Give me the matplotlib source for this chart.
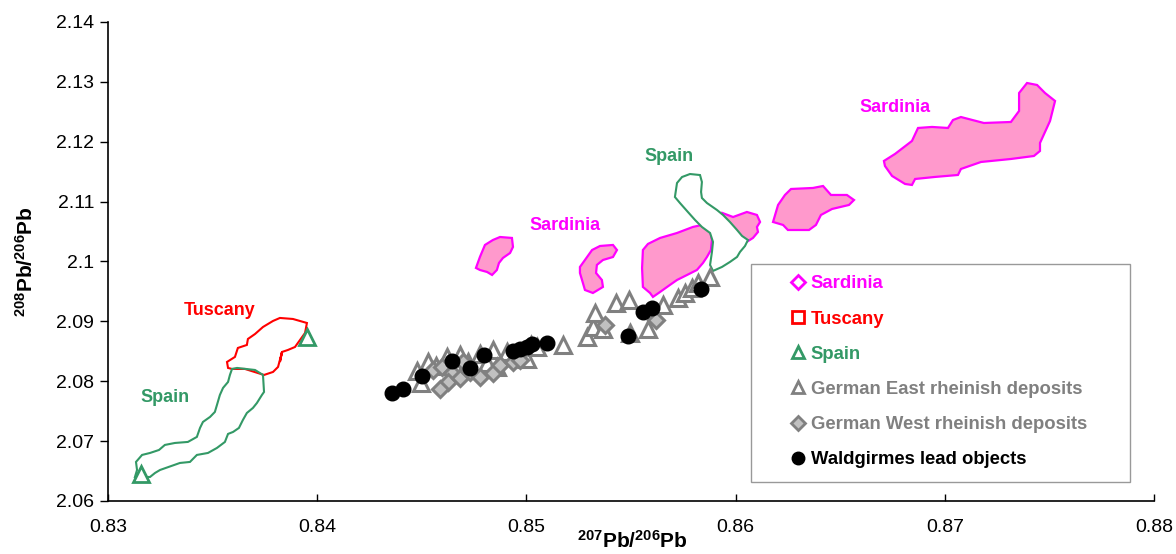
import matplotlib
matplotlib.use('Agg')
import matplotlib.pyplot as plt
from matplotlib.lines import Line2D
from matplotlib.patches import Rectangle

plt.rcParams['font.family'] = ['Liberation Sans', 'DejaVu Sans']
plt.rcParams['mathtext.fontset'] = 'custom'
plt.rcParams['mathtext.rm'] = 'Liberation Sans'
plt.rcParams['mathtext.bf'] = 'Liberation Sans:bold'

# ---- field outlines (207Pb/206Pb, 208Pb/206Pb) ----
tuscany_x = [0.83574, 0.83569, 0.83607, 0.83621, 0.83664, 0.83669, 0.83703, 0.83741, 0.83789,
             0.83822, 0.83884, 0.83951, 0.83942, 0.83918, 0.83894, 0.83860, 0.83832, 0.83822,
             0.83832, 0.83813, 0.83789, 0.83746, 0.83655, 0.83593]
tuscany_y = [2.08222, 2.08322, 2.08406, 2.08556, 2.08606, 2.08706, 2.08789, 2.08906, 2.09007,
             2.09057, 2.09040, 2.08973, 2.08806, 2.08689, 2.08572, 2.08522, 2.08489, 2.08322,
             2.08489, 2.08239, 2.08155, 2.08105, 2.08205, 2.08205]

spain1_x = [0.83593, 0.83617, 0.83703, 0.83741, 0.83746, 0.83736, 0.83712, 0.83693, 0.83664,
            0.83645, 0.83626, 0.83598, 0.83574, 0.83559, 0.83521, 0.83478, 0.83425, 0.83392,
            0.83344, 0.83249, 0.83225, 0.83201, 0.83129, 0.83139, 0.83134, 0.83163, 0.83201,
            0.83244, 0.83272, 0.83320, 0.83382, 0.83425, 0.83440, 0.83454, 0.83488, 0.83511,
            0.83521, 0.83535, 0.83550, 0.83574, 0.83583]
spain1_y = [2.08205, 2.08222, 2.08188, 2.08105, 2.07821, 2.07771, 2.07637, 2.07554, 2.07470,
            2.07353, 2.07220, 2.07153, 2.07120, 2.06986, 2.06886, 2.06802, 2.06769, 2.06652,
            2.06635, 2.06518, 2.06468, 2.06401, 2.06401, 2.06518, 2.06652, 2.06769, 2.06802,
            2.06852, 2.06936, 2.06969, 2.06986, 2.07070, 2.07220, 2.07320, 2.07404, 2.07487,
            2.07604, 2.07771, 2.07888, 2.07988, 2.08105]

spain2_x = [0.85710, 0.85720, 0.85744, 0.85782, 0.85830, 0.85839, 0.85835, 0.85839, 0.85863,
            0.85911, 0.85940, 0.85973, 0.86007, 0.86031, 0.86059, 0.86045, 0.86021, 0.86007,
            0.85973, 0.85935, 0.85892, 0.85878, 0.85887, 0.85892, 0.85878, 0.85839, 0.85806,
            0.85772, 0.85734]
spain2_y = [2.11077, 2.11311, 2.11411, 2.11461, 2.11444, 2.11328, 2.11161, 2.11061, 2.10977,
            2.10860, 2.10777, 2.10660, 2.10526, 2.10426, 2.10359, 2.10259, 2.10159, 2.10076,
            2.09992, 2.09909, 2.09842, 2.09942, 2.10159, 2.10326, 2.10476, 2.10577, 2.10694,
            2.10827, 2.10977]

sard1_x = [0.84759, 0.84778, 0.84802, 0.84840, 0.84874, 0.84931, 0.84936, 0.84922, 0.84888,
           0.84869, 0.84859, 0.84836, 0.84812, 0.84778]
sard1_y = [2.09892, 2.10076, 2.10276, 2.10359, 2.10409, 2.10393, 2.10243, 2.10142, 2.10059,
           2.09975, 2.09858, 2.09775, 2.09825, 2.09858]

sard2_x = [0.85256, 0.85280, 0.85314, 0.85352, 0.85414, 0.85433, 0.85414, 0.85366, 0.85337,
           0.85333, 0.85361, 0.85366, 0.85342, 0.85318, 0.85280, 0.85266, 0.85256]
sard2_y = [2.09908, 2.10025, 2.10192, 2.10259, 2.10276, 2.10192, 2.10075, 2.10025, 2.09942,
           2.09808, 2.09691, 2.09575, 2.09524, 2.09474, 2.09524, 2.09691, 2.09808]

sard3_x = [0.85553, 0.85557, 0.85581, 0.85639, 0.85720, 0.85796, 0.85839, 0.85878, 0.85887,
           0.85882, 0.85863, 0.85844, 0.85815, 0.85768, 0.85720, 0.85686, 0.85639, 0.85605,
           0.85591, 0.85557]
sard3_y = [2.09892, 2.10192, 2.10293, 2.10393, 2.10476, 2.10577, 2.10610, 2.10526, 2.10359,
           2.10192, 2.10075, 2.09975, 2.09858, 2.09775, 2.09691, 2.09608, 2.09491, 2.09408,
           2.09474, 2.09575]

sard4_x = [0.85937, 0.85988, 0.86054, 0.86102, 0.86117, 0.86102, 0.86107, 0.86083, 0.86045,
           0.86011, 0.85973, 0.85935]
sard4_y = [2.10810, 2.10743, 2.10827, 2.10777, 2.10660, 2.10576, 2.10493, 2.10393, 2.10309,
           2.10309, 2.10443, 2.10660]

sard5_x = [0.86179, 0.86203, 0.86236, 0.86265, 0.86370, 0.86418, 0.86456, 0.86532, 0.86566,
           0.86542, 0.86461, 0.86408, 0.86384, 0.86351, 0.86250, 0.86227]
sard5_y = [2.10660, 2.10944, 2.11111, 2.11211, 2.11228, 2.11261, 2.11111, 2.11111, 2.11027,
           2.10944, 2.10877, 2.10777, 2.10610, 2.10526, 2.10526, 2.10610]

sard6_x = [0.86709, 0.86762, 0.86843, 0.86872, 0.86939, 0.87015, 0.87039, 0.87077, 0.87187,
           0.87316, 0.87355, 0.87355, 0.87393, 0.87441, 0.87479, 0.87527, 0.87503, 0.87455,
           0.87455, 0.87426, 0.87316, 0.87173, 0.87077, 0.87063, 0.86953, 0.86858, 0.86843,
           0.86810, 0.86748, 0.86714]
sard6_y = [2.11679, 2.11796, 2.12013, 2.12230, 2.12247, 2.12230, 2.12363, 2.12413, 2.12313,
           2.12330, 2.12514, 2.12814, 2.12981, 2.12948, 2.12814, 2.12681, 2.12347, 2.11979,
           2.11846, 2.11762, 2.11712, 2.11662, 2.11545, 2.11445, 2.11412, 2.11378, 2.11278,
           2.11295, 2.11428, 2.11595]

# ---- single samples ----
spain_pts_x = [0.83951, 0.83158]
spain_pts_y = [2.08740, 2.06450]

east_x = [0.84477, 0.84496, 0.84530, 0.84568, 0.84620, 0.84659, 0.84683, 0.84721, 0.84778,
          0.84812, 0.84840, 0.84859, 0.84907, 0.84945, 0.85003, 0.85022, 0.85051, 0.85175,
          0.85290, 0.85318, 0.85328, 0.85366, 0.85428, 0.85490, 0.85495, 0.85581, 0.85653,
          0.85725, 0.85758, 0.85792, 0.85820, 0.85878]
east_y = [2.08172, 2.07971, 2.08322, 2.08255, 2.08406, 2.08255, 2.08439, 2.08322, 2.08456,
          2.08305, 2.08522, 2.08238, 2.08489, 2.08422, 2.08372, 2.08606, 2.08573, 2.08606,
          2.08740, 2.08907, 2.09140, 2.08873, 2.09307, 2.09357, 2.08806, 2.08873, 2.09274,
          2.09391, 2.09474, 2.09558, 2.09641, 2.09741]

west_x = [0.84554, 0.84597, 0.84644, 0.84625, 0.84683, 0.84587, 0.84697, 0.84730, 0.84778,
          0.84840, 0.84874, 0.84936, 0.84969, 0.85376, 0.85620]
west_y = [2.08188, 2.08238, 2.08138, 2.07988, 2.08055, 2.07871, 2.08322, 2.08155, 2.08071,
          2.08138, 2.08272, 2.08322, 2.08355, 2.08940, 2.09023]

wald_x = [0.84358, 0.84410, 0.84501, 0.84644, 0.84730, 0.84797, 0.84936, 0.84969, 0.85003,
          0.85027, 0.85098, 0.85486, 0.85557, 0.85600, 0.85835]
wald_y = [2.07806, 2.07873, 2.08090, 2.08341, 2.08224, 2.08441, 2.08508, 2.08541, 2.08574,
          2.08624, 2.08641, 2.08758, 2.09159, 2.09225, 2.09543]

# field names written on the plot
labels = ['Tuscany', 'Spain', 'Sardinia', 'Spain', 'Sardinia']
label_x = [0.83535, 0.83272, 0.85185, 0.85682, 0.86762]
label_y = [2.09174, 2.07721, 2.10593, 2.11746, 2.12564]

PINK = '#ff00ff'
PINK_FILL = '#ff99cc'
RED = '#ff0000'
GREEN = '#339966'
GREY = '#808080'
label_colors = [RED, GREEN, PINK, GREEN, PINK]

fig = plt.figure(figsize=(11.76, 5.54), dpi=100)
ax = fig.add_axes([0.0918, 0.0957, 0.8895, 0.8646])

sards = [(sard1_x, sard1_y), (sard2_x, sard2_y), (sard3_x, sard3_y),
         (sard4_x, sard4_y), (sard5_x, sard5_y), (sard6_x, sard6_y)]
for sx, sy in sards:
    ax.fill(sx, sy, facecolor=PINK_FILL, edgecolor=PINK, lw=1.6, zorder=1)

ax.fill(spain2_x, spain2_y, facecolor='white', edgecolor=GREEN, lw=1.5, zorder=2)
ax.fill(tuscany_x, tuscany_y, facecolor='none', edgecolor=RED, lw=1.5, zorder=2)
ax.fill(spain1_x, spain1_y, facecolor='none', edgecolor=GREEN, lw=1.5, zorder=2)

ax.plot(spain_pts_x, spain_pts_y, ls='none', marker='^', ms=11, mfc='white',
        mec=GREEN, mew=2, zorder=3)
ax.plot(east_x, east_y, ls='none', marker='^', ms=12, mfc='white',
        mec=GREY, mew=2.2, zorder=4)
ax.plot(west_x, west_y, ls='none', marker='D', ms=8.5, mfc='#c0c0c0',
        mec=GREY, mew=2.2, zorder=5)
ax.plot(wald_x, wald_y, ls='none', marker='o', ms=10.5, mfc='black',
        mec='black', zorder=6)

for t, lx, ly, c in zip(labels, label_x, label_y, label_colors):
    ax.text(lx, ly, t, color=c, fontsize=13, fontweight='bold',
            ha='center', va='center', zorder=7)

ax.set_xlim(0.83, 0.88)
ax.set_ylim(2.06, 2.14)
ax.set_xticks([0.83, 0.84, 0.85, 0.86, 0.87, 0.88])
ax.set_xticklabels(['0.83', '0.84', '0.85', '0.86', '0.87', '0.88'])
ax.set_yticks([2.06, 2.07, 2.08, 2.09, 2.10, 2.11, 2.12, 2.13, 2.14])
ax.set_yticklabels(['2.06', '2.07', '2.08', '2.09', '2.1', '2.11', '2.12', '2.13', '2.14'])
ax.tick_params(axis='x', direction='in', length=5, width=1, pad=13, labelsize=14)
ax.tick_params(axis='y', direction='out', length=6, width=1, pad=4, labelsize=14)
for side in ['top', 'right']:
    ax.spines[side].set_visible(False)
for side in ['left', 'bottom']:
    ax.spines[side].set_linewidth(1.2)

ax.set_xlabel(r'$\mathbf{^{207}Pb/^{206}Pb}$', fontsize=15)
ax.set_ylabel(r'$\mathbf{^{208}Pb/^{206}Pb}$', fontsize=15)
ax.xaxis.set_label_coords(0.501, -0.06)
ax.yaxis.set_label_coords(-0.068, 0.5)

# legend: frame drawn as a box, entries inside it
ax.add_patch(Rectangle((0.6147, 0.0397), 0.3623, 0.455, transform=ax.transAxes,
                       facecolor='white', edgecolor='#999999', lw=1, zorder=8, clip_on=False))
handles = [
    Line2D([], [], ls='none', marker='D', ms=7, mfc='white', mec=PINK, mew=2),
    Line2D([], [], ls='none', marker='s', ms=9, mfc='white', mec=RED, mew=2),
    Line2D([], [], ls='none', marker='^', ms=9, mfc='white', mec=GREEN, mew=2),
    Line2D([], [], ls='none', marker='^', ms=9, mfc='white', mec=GREY, mew=2),
    Line2D([], [], ls='none', marker='D', ms=7, mfc='#c0c0c0', mec=GREY, mew=2),
    Line2D([], [], ls='none', marker='o', ms=9, mfc='black', mec='black'),
]
names = ['Sardinia', 'Tuscany', 'Spain', 'German East rheinish deposits',
         'German West rheinish deposits', 'Waldgirmes lead objects']
leg = ax.legend(handles, names, loc='upper left', bbox_to_anchor=(0.6523, 0.471),
                frameon=False, prop={'weight': 'bold', 'size': 13.3},
                handlelength=0.8, handletextpad=0.3, labelspacing=0.985,
                borderpad=0, borderaxespad=0,
                labelcolor=[PINK, RED, GREEN, GREY, GREY, 'black'])
leg.set_zorder(9)

fig.savefig('out.png', dpi=100)
